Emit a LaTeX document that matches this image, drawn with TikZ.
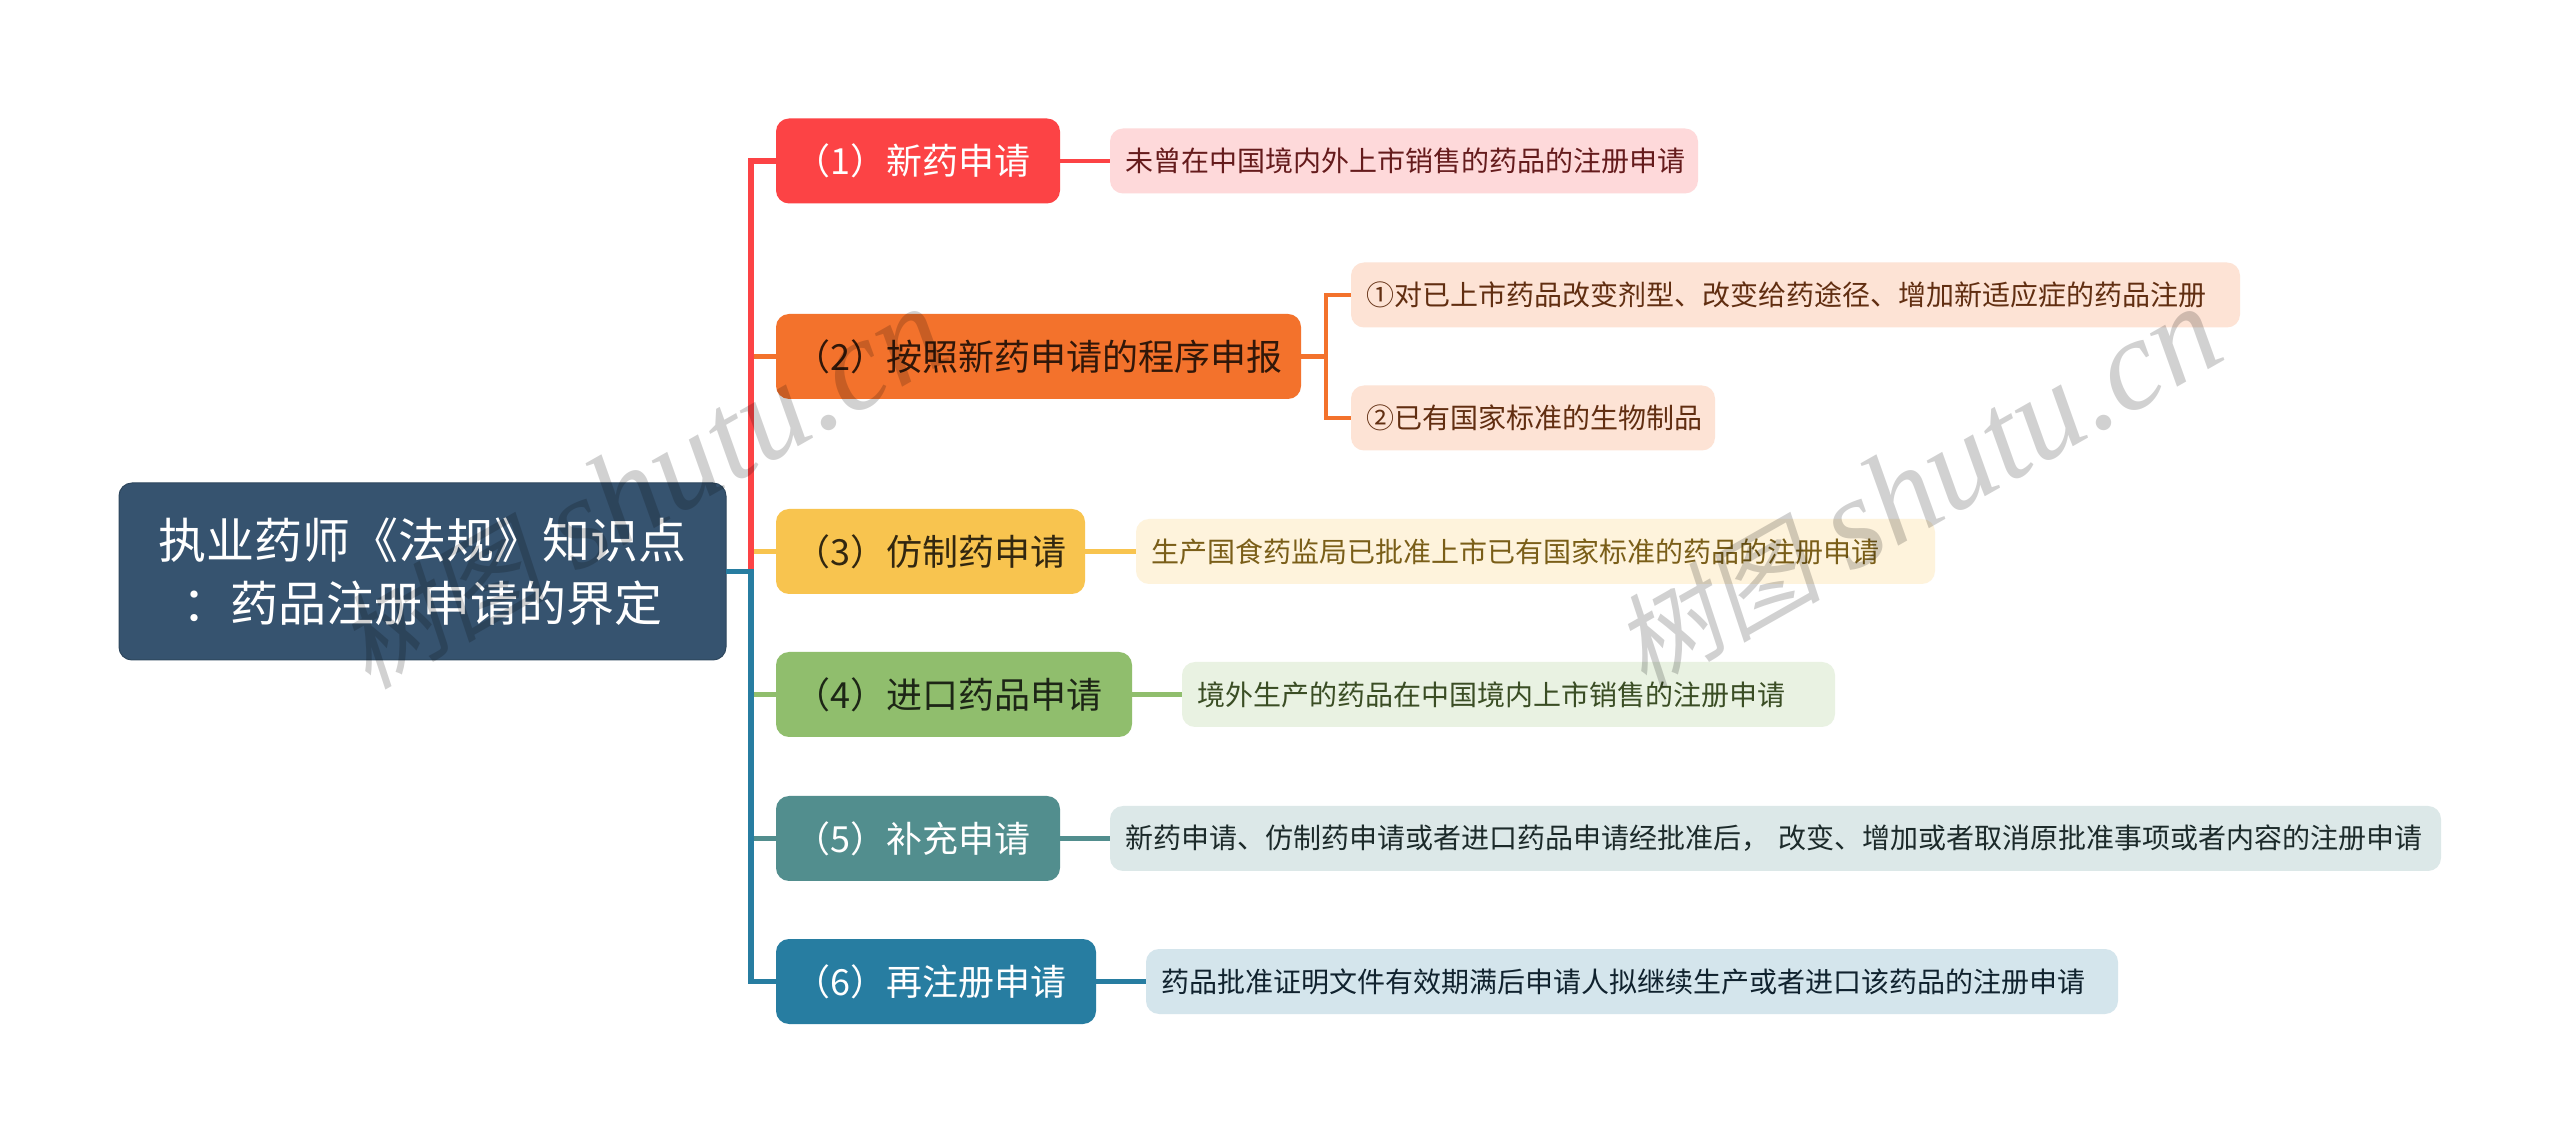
\documentclass[tikz,border=0pt]{standalone}
\usepackage{fontspec}
\setmainfont{Noto Sans CJK SC}
\newfontfamily\wmcjk[FakeSlant=0.2]{Noto Sans CJK SC}
\newfontfamily\wmlat{Liberation Serif}[ItalicFont=* Italic]
\newcommand{\ltx}[1]{\makebox[0pt][l]{#1}}
\definecolor{cRoot}{HTML}{36536F}
\definecolor{cA}{HTML}{FC4345}
\definecolor{cB}{HTML}{F3722C}
\definecolor{cC}{HTML}{F8C44F}
\definecolor{cD}{HTML}{90BE6D}
\definecolor{cE}{HTML}{528E8E}
\definecolor{cF}{HTML}{277DA1}
\definecolor{lA}{HTML}{FED9DA}
\definecolor{lB}{HTML}{FDE3D5}
\definecolor{lC}{HTML}{FEF3DC}
\definecolor{lD}{HTML}{E9F2E2}
\definecolor{lE}{HTML}{DCE8E8}
\definecolor{lF}{HTML}{D4E5EC}
\definecolor{tA}{HTML}{651B1C}
\definecolor{tB}{HTML}{612E11}
\definecolor{tC}{HTML}{7A5E18}
\definecolor{tD}{HTML}{3A4D24}
\definecolor{tE}{HTML}{1C2A2A}
\definecolor{tF}{HTML}{10222E}
\tikzset{
  wh/.style 2 args={minimum width=#1*0.5pt,minimum height=#2*0.5pt},
  boxbase/.style={rectangle,rounded corners=6.5pt,inner sep=0pt,outer sep=0pt},
  rootbox/.style={boxbase,fill=cRoot,draw=cRoot!85!black,line width=.5pt,text=white,align=center,
    font=\fontsize{24}{31.5}\selectfont},
  mainbox/.style={boxbase,minimum height=42.5pt,text width=(#1-37)*0.5pt,align=left,
    minimum width=#1*0.5pt,font=\fontsize{18}{22}\selectfont},
  leafbox/.style={boxbase,minimum height=32.5pt,text width=(#1-30)*0.5pt,align=left,
    minimum width=#1*0.5pt,font=\fontsize{14}{18}\selectfont},
  conn/.style={line width=2.8pt,sharp corners,miter limit=10},
  leafconn/.style={line width=2.4pt,sharp corners},
  watermark/.style={text=black,text opacity=.18,rotate=29.6,anchor=base,inner sep=0pt,
    font=\fontsize{65}{68}\selectfont}
}
\begin{document}
\begin{tikzpicture}[x=0.5pt,y=-0.5pt]
\useasboundingbox[fill=white] (0,0) rectangle (2560,1143);
\node[rootbox,wh={607}{177}] (root) at (422.5,571.5) {执业药师《法规》知识点\\：药品注册申请的界定};
\node[mainbox=284,fill=cA,text=white] (n1) at (918,161) {\ltx{（1）新药申请}};
\node[mainbox=525,fill=cB,text=black!80!cB] (n2) at (1038.5,356.5) {\ltx{（2）按照新药申请的程序申报}};
\node[mainbox=309,fill=cC,text=black!80!cC] (n3) at (930.5,551.5) {\ltx{（3）仿制药申请}};
\node[mainbox=356,fill=cD,text=black!80!cD] (n4) at (954,694.5) {\ltx{（4）进口药品申请}};
\node[mainbox=284,fill=cE,text=white] (n5) at (918,838.5) {\ltx{（5）补充申请}};
\node[mainbox=320,fill=cF,text=white] (n6) at (936,981.5) {\ltx{（6）再注册申请}};
\node[leafbox=588,fill=lA,text=tA] (l1) at (1404,161) {\ltx{未曾在中国境内外上市销售的药品的注册申请}};
\node[leafbox=889,fill=lB,text=tB] (l2a) at (1795.5,295) {\ltx{①对已上市药品改变剂型、改变给药途径、增加新适应症的药品注册}};
\node[leafbox=364,fill=lB,text=tB] (l2b) at (1533,418) {\ltx{②已有国家标准的生物制品}};
\node[leafbox=799,fill=lC,text=tC] (l3) at (1535.5,551.5) {\ltx{生产国食药监局已批准上市已有国家标准的药品的注册申请}};
\node[leafbox=653,fill=lD,text=tD] (l4) at (1508.5,694.5) {\ltx{境外生产的药品在中国境内上市销售的注册申请}};
\node[leafbox=1331,fill=lE,text=tE] (l5) at (1775.5,838.5) {\ltx{新药申请、仿制药申请或者进口药品申请经批准后， 改变、增加或者取消原批准事项或者内容的注册申请}};
\node[leafbox=972,fill=lF,text=tF] (l6) at (1632,981.5) {\ltx{药品批准证明文件有效期满后申请人拟继续生产或者进口该药品的注册申请}};
\coordinate (sp) at (751,571.5);
\coordinate (sq) at (1326,356.5);
\draw[conn,cC] (root.east) -- (sp) |- (n3.west);
\draw[conn,cB] (root.east) -- (sp) |- (n2.west);
\draw[conn,cA] (root.east) -- (sp) |- (n1.west);
\draw[conn,cD] (root.east) -- (sp) |- (n4.west);
\draw[conn,cE] (root.east) -- (sp) |- (n5.west);
\draw[conn,cF] (root.east) -- (sp) |- (n6.west);
\draw[leafconn,cA] (n1.east) -- (l1.west);
\draw[leafconn,cB] (n2.east) -- (sq) |- (l2a.west);
\draw[leafconn,cB] (n2.east) -- (sq) |- (l2b.west);
\draw[leafconn,cC] (n3.east) -- (l3.west);
\draw[leafconn,cD] (n4.east) -- (l4.west);
\draw[leafconn,cE] (n5.east) -- (l5.west);
\draw[leafconn,cF] (n6.east) -- (l6.west);
\node[watermark] (wm1) at (662,524) {{\wmcjk\fontsize{52}{60}\selectfont 树图} {\wmlat\itshape shutu.cn}};
\node[watermark] (wm2) at (1937,524) {{\wmcjk\fontsize{52}{60}\selectfont 树图} {\wmlat\itshape shutu.cn}};
\end{tikzpicture}
\end{document}
